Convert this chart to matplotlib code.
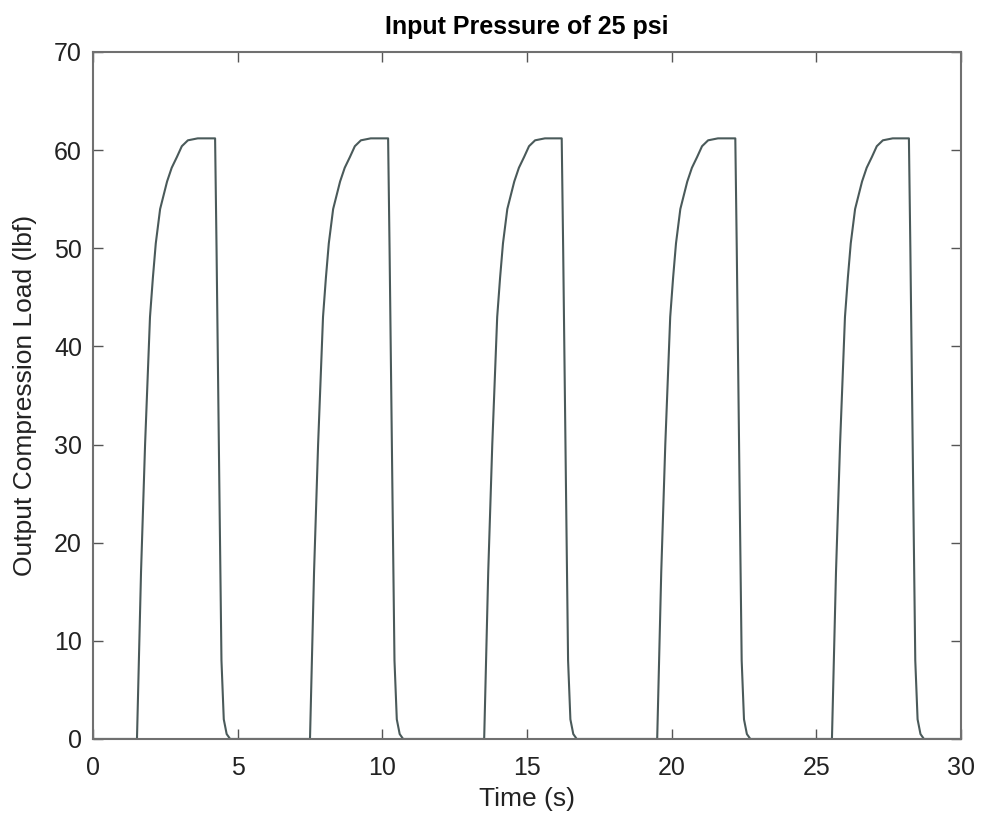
import matplotlib
matplotlib.use("Agg")
import matplotlib.pyplot as plt

plt.rcParams['font.family'] = ['Liberation Sans', 'DejaVu Sans']

# Time (s) and output load (lbf) (5 pulses)
time_s = [
    0.0,
    1.52, 1.66, 1.80, 1.97, 2.07, 2.17, 2.32, 2.56, 2.72, 2.90, 3.07, 3.28, 3.62, 4.22,
    4.27, 4.37, 4.44, 4.52, 4.62, 4.74,
    7.50, 7.64, 7.78, 7.95, 8.05, 8.15, 8.30, 8.54, 8.70, 8.88, 9.05, 9.26, 9.60, 10.20,
    10.25, 10.35, 10.42, 10.50, 10.60, 10.72,
    13.52, 13.66, 13.80, 13.97, 14.07, 14.17, 14.32, 14.56, 14.72, 14.90, 15.07, 15.28, 15.62, 16.20,
    16.25, 16.35, 16.42, 16.50, 16.60, 16.72,
    19.50, 19.64, 19.78, 19.95, 20.05, 20.15, 20.30, 20.54, 20.70, 20.88, 21.05, 21.26, 21.60, 22.20,
    22.25, 22.35, 22.42, 22.50, 22.60, 22.72,
    25.54, 25.68, 25.82, 25.99, 26.09, 26.19, 26.34, 26.58, 26.74, 26.92, 27.09, 27.30, 27.64, 28.20,
    28.25, 28.35, 28.42, 28.50, 28.60, 28.72,
    30.0,
]
load_lbf = [
    0.0,
    0.0, 17.0, 30.0, 43.0, 47.0, 50.5, 54.0, 56.8, 58.2, 59.3, 60.4, 61.0, 61.2, 61.2,
    50.0, 25.0, 8.0, 2.0, 0.5, 0.0,
    0.0, 17.0, 30.0, 43.0, 47.0, 50.5, 54.0, 56.8, 58.2, 59.3, 60.4, 61.0, 61.2, 61.2,
    50.0, 25.0, 8.0, 2.0, 0.5, 0.0,
    0.0, 17.0, 30.0, 43.0, 47.0, 50.5, 54.0, 56.8, 58.2, 59.3, 60.4, 61.0, 61.2, 61.2,
    50.0, 25.0, 8.0, 2.0, 0.5, 0.0,
    0.0, 17.0, 30.0, 43.0, 47.0, 50.5, 54.0, 56.8, 58.2, 59.3, 60.4, 61.0, 61.2, 61.2,
    50.0, 25.0, 8.0, 2.0, 0.5, 0.0,
    0.0, 17.0, 30.0, 43.0, 47.0, 50.5, 54.0, 56.8, 58.2, 59.3, 60.4, 61.0, 61.2, 61.2,
    50.0, 25.0, 8.0, 2.0, 0.5, 0.0,
    0.0,
]

x_ticks = [0, 5, 10, 15, 20, 25, 30]
y_ticks = [0, 10, 20, 30, 40, 50, 60, 70]

fig = plt.figure(figsize=(9.82, 8.24), dpi=100)
ax = fig.add_axes([0.0947, 0.1032, 0.8839, 0.8337])

ax.plot(time_s, load_lbf, color='#4a5a5a', linewidth=1.5)

ax.set_xlim(0, 30)
ax.set_ylim(0, 70)
ax.set_xticks(x_ticks)
ax.set_yticks(y_ticks)
ax.tick_params(direction='in', top=True, right=True, length=7, width=1,
               color='#555555', labelsize=18, labelcolor='#222222')
ax.tick_params(axis='x', pad=12)
ax.tick_params(axis='y', pad=8)
for sp in ax.spines.values():
    sp.set_color('#707070')
    sp.set_linewidth(1.5)

ax.set_xlabel('Time (s)', fontsize=19, color='#222222', labelpad=5)
ax.set_ylabel('Output Compression Load (lbf)', fontsize=19, color='#222222', labelpad=12)
ax.set_title('Input Pressure of 25 psi', fontsize=18, fontweight='bold', pad=13)

fig.savefig('out.png', dpi=100)
